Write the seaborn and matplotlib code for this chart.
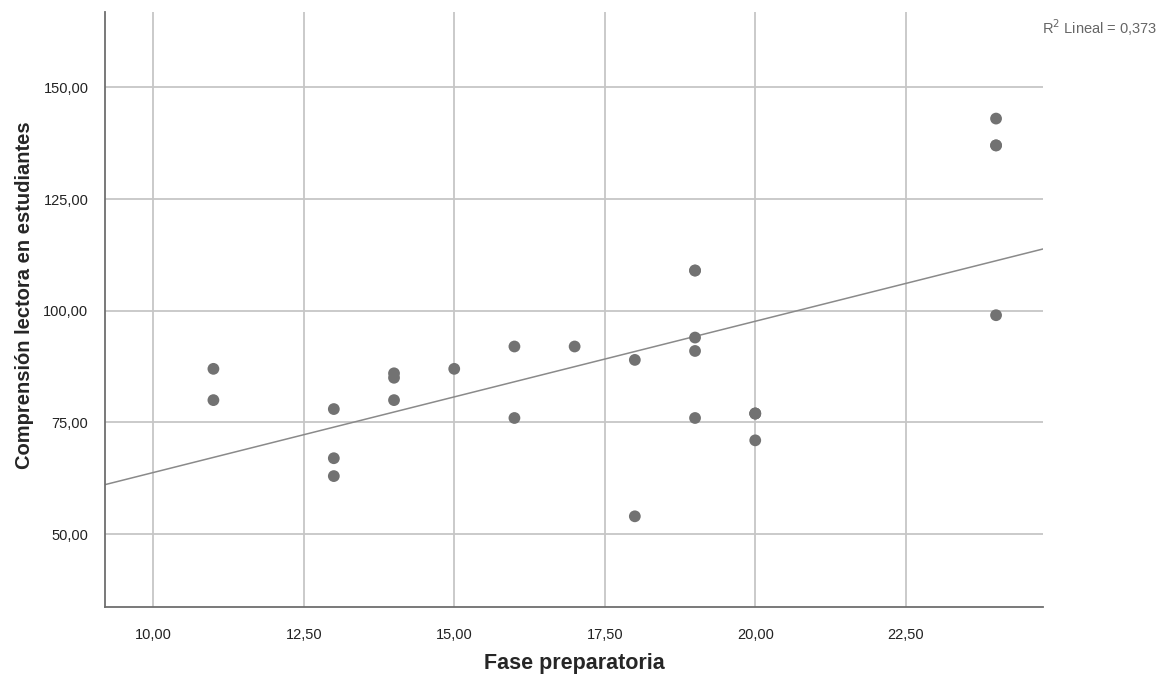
import matplotlib
matplotlib.use("Agg")
import matplotlib.pyplot as plt
import pandas as pd
import seaborn as sns

# Fase preparatoria vs Comprensión lectora (last four rows overlap visible points)
fase = [11, 11, 13, 13, 13, 14, 14, 14, 15, 16, 16, 17, 18, 18,
        19, 19, 19, 19, 20, 20, 24, 24, 24,
        19, 20, 20, 24]
comprension = [87, 80, 78, 67, 63, 86, 85, 80, 87, 92, 76, 92, 89, 54,
               109, 94, 91, 76, 77, 71, 143, 137, 99,
               109, 77, 77, 137]
xticks = [10, 12.5, 15, 17.5, 20, 22.5]
yticks = [50, 75, 100, 125, 150]

df = pd.DataFrame({"Fase preparatoria": fase,
                   "Comprensión lectora en estudiantes": comprension})

sns.set_style("white")
plt.rcParams['font.family'] = ['Liberation Sans', 'DejaVu Sans']

fig = plt.figure(figsize=(11.62, 6.79), dpi=100)
ax = fig.add_axes([0.0904, 0.106, 0.8072, 0.876])
ax.set_xlim(9.2, 24.78)
ax.set_ylim(33.7, 166.8)

# scatter + linear fit extended to the axis limits
sns.regplot(data=df, x="Fase preparatoria", y="Comprensión lectora en estudiantes",
            ax=ax, ci=None, truncate=False,
            scatter_kws=dict(color="#727272", s=72, edgecolor="none", alpha=1, zorder=3),
            line_kws=dict(color="#8a8a8a", linewidth=1.1, zorder=2))
ax.set_xlim(9.2, 24.78)
ax.set_ylim(33.7, 166.8)

ax.set_xticks(xticks)
ax.set_yticks(yticks)
ax.set_xticklabels([f"{v:.2f}".replace(".", ",") for v in xticks])
ax.set_yticklabels([f"{v:.2f}".replace(".", ",") for v in yticks])
ax.tick_params(length=0, labelsize=10.5, colors="#222222")
ax.tick_params(axis="x", pad=15)
ax.tick_params(axis="y", pad=12)

ax.grid(True, color="#c6c6c6", linewidth=1.3)
ax.set_axisbelow(True)
for s in ["top", "right"]:
    ax.spines[s].set_visible(False)
for s in ["left", "bottom"]:
    ax.spines[s].set_color("#6e6e6e")
    ax.spines[s].set_linewidth(1.3)

ax.set_xlabel("Fase preparatoria", fontsize=15.5, fontweight="bold", labelpad=8)
ax.set_ylabel("Comprensión lectora en estudiantes", fontsize=14.5, fontweight="bold",
              labelpad=7, y=0.524)

fig.text(0.996, 0.96, "R$^2$ Lineal = 0,373", ha="right", va="center",
         fontsize=10.5, color="#666666")

fig.savefig("out.png", dpi=100)
